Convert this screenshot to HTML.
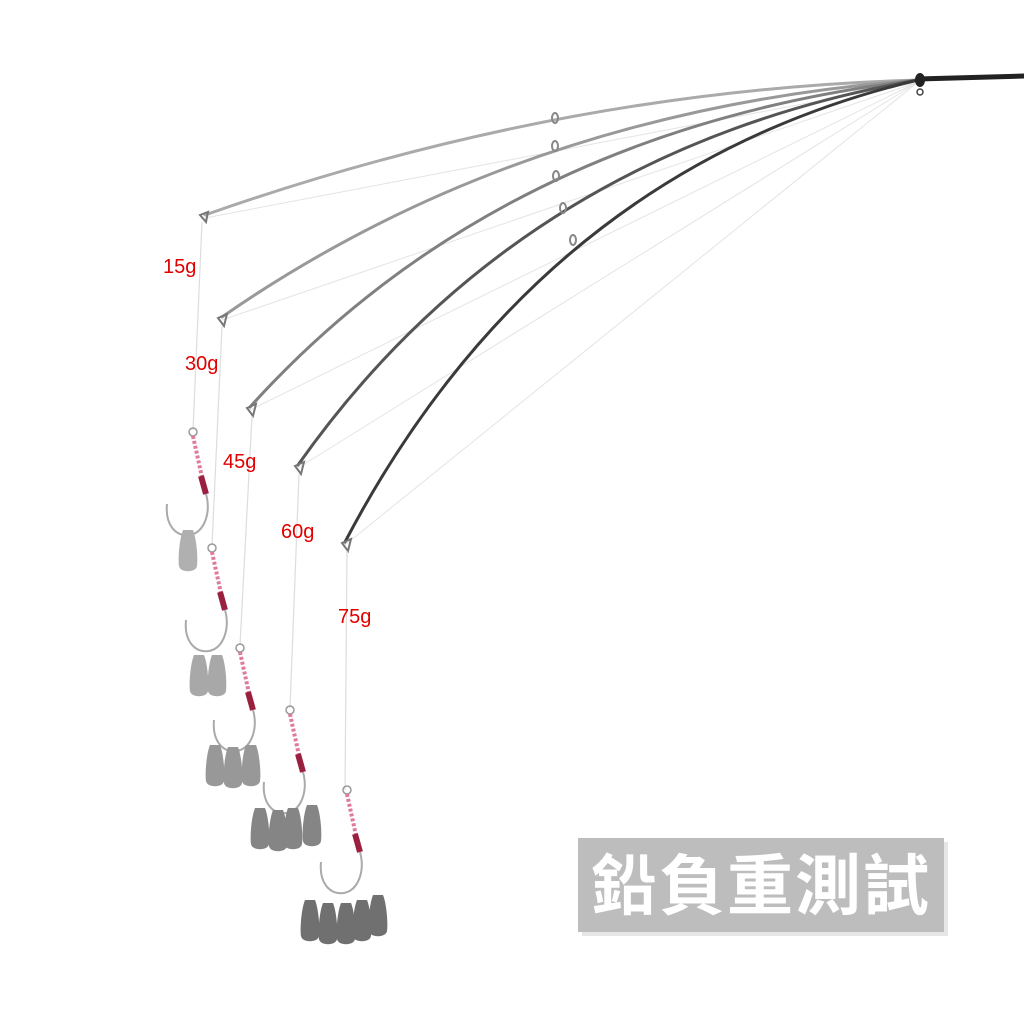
<!DOCTYPE html>
<html><head><meta charset="utf-8"><style>
html,body{margin:0;padding:0;background:#fff;}
.lbl{font-family:"Liberation Sans",sans-serif;font-size:20px;fill:#e00000;}
</style></head><body>
<svg width="1024" height="1024" viewBox="0 0 1024 1024" xmlns="http://www.w3.org/2000/svg">
<defs>
<g id="rig">
  <circle cx="0" cy="0" r="4" fill="none" stroke="#999" stroke-width="1.5"/>
  <path d="M0,4 L10,50" stroke="#e07a9a" stroke-width="4" stroke-dasharray="3 2"/>
  <path d="M8,44 L13,62" stroke="#9a2040" stroke-width="6"/>
  <path d="M13,62 C18,80 12,100 -3,103 C-18,105 -28,92 -26,72" fill="none" stroke="#aaa" stroke-width="2"/>
</g>
<path id="w" d="M-5,0 L5,0 C9,10 10,30 9,36 C8,43 -8,43 -9,36 C-10,30 -9,10 -5,0Z"/>
</defs>

<!-- thin lines from guides -->
<g stroke="#e4e4e4" stroke-width="1" fill="none">
<path d="M918,82 L205,218"/><path d="M918,82 L222,320"/><path d="M918,82 L250,410"/><path d="M918,82 L298,468"/><path d="M918,82 L345,545"/>
</g>
<!-- rods -->
<g fill="none" stroke-linecap="round">
<path d="M918,80 Q560,90 205,215" stroke="#aaa" stroke-width="3"/>
<path d="M918,80 Q520,110 222,317" stroke="#999" stroke-width="3"/>
<path d="M918,80 Q500,130 250,407" stroke="#808080" stroke-width="3"/>
<path d="M918,80 Q520,150 298,465" stroke="#555" stroke-width="3"/>
<path d="M918,80 Q540,170 345,542" stroke="#3a3a3a" stroke-width="3"/>
<path d="M918,79 L1024,76" stroke="#222" stroke-width="5"/>
</g>
<ellipse cx="920" cy="80" rx="5" ry="7" fill="#222"/>
<circle cx="920" cy="92" r="3" fill="none" stroke="#444" stroke-width="1.5"/>
<!-- mid guides -->
<g fill="none" stroke="#888" stroke-width="2">
<ellipse cx="555" cy="118" rx="3" ry="5"/><ellipse cx="555" cy="146" rx="3" ry="5"/><ellipse cx="556" cy="176" rx="3" ry="5"/><ellipse cx="563" cy="208" rx="3" ry="5"/><ellipse cx="573" cy="240" rx="3" ry="5"/>
</g>
<!-- tip guides -->
<g fill="none" stroke="#777" stroke-width="2">
<path d="M200,215 L206,222 L208,212Z"/><path d="M218,318 L224,326 L227,314Z"/><path d="M247,408 L253,416 L256,404Z"/><path d="M295,466 L301,474 L304,462Z"/><path d="M342,543 L348,551 L351,539Z"/>
</g>
<!-- hanging lines -->
<g stroke="#ddd" stroke-width="1.2">
<path d="M202,222 L193,430"/><path d="M222,326 L212,545"/><path d="M252,416 L240,645"/><path d="M299,474 L290,708"/><path d="M347,551 L345,790"/>
</g>
<!-- rigs -->
<use href="#rig" x="193" y="432"/>
<use href="#rig" x="212" y="548"/>
<use href="#rig" x="240" y="648"/>
<use href="#rig" x="290" y="710"/>
<use href="#rig" x="347" y="790"/>
<!-- weights -->
<g fill="#b0b0b0"><use href="#w" x="188" y="530"/></g>
<g fill="#a8a8a8"><use href="#w" x="199" y="655"/><use href="#w" x="217" y="655"/></g>
<g fill="#989898"><use href="#w" x="215" y="745"/><use href="#w" x="233" y="747"/><use href="#w" x="251" y="745"/></g>
<g fill="#858585"><use href="#w" x="260" y="808"/><use href="#w" x="278" y="810"/><use href="#w" x="293" y="808"/><use href="#w" x="312" y="805"/></g>
<g fill="#707070"><use href="#w" x="310" y="900"/><use href="#w" x="328" y="903"/><use href="#w" x="346" y="903"/><use href="#w" x="362" y="900"/><use href="#w" x="378" y="895"/></g>
<!-- labels -->
<text class="lbl" x="163" y="273">15g</text>
<text class="lbl" x="185" y="370">30g</text>
<text class="lbl" x="223" y="468">45g</text>
<text class="lbl" x="281" y="538">60g</text>
<text class="lbl" x="338" y="623">75g</text>
<!-- title box -->
<rect x="582" y="842" width="366" height="94" fill="#e6e6e6"/>
<rect x="578" y="838" width="366" height="94" fill="#bdbdbd"/>
<text x="761" y="909" text-anchor="middle" font-family="'Liberation Sans','Noto Sans CJK TC',sans-serif" font-weight="bold" font-size="66" fill="#fff" letter-spacing="2">鉛負重測試</text>
</svg>
</body></html>
